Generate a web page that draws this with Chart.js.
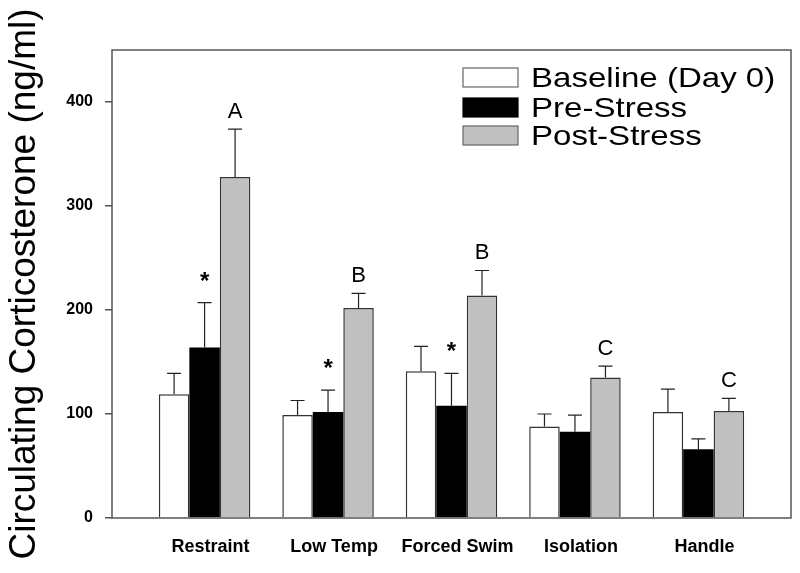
<!DOCTYPE html>
<html>
<head>
<meta charset="utf-8">
<script src="https://cdn.jsdelivr.net/npm/chart.js@4/dist/chart.umd.min.js"></script>
<style>
  html, body { margin: 0; padding: 0; background: #fff; }
  #wrap { width: 800px; height: 573px; }
</style>
</head>
<body>
<div id="wrap"><canvas id="c" width="800" height="573"></canvas></div>
<script>
// ---- data ----
const categories = ['Restraint', 'Low Temp', 'Forced Swim', 'Isolation', 'Handle'];
const seriesNames = ['Baseline (Day 0)', 'Pre-Stress', 'Post-Stress'];
const baseline = [119, 99, 141, 88, 102];
const baselineErr = [20, 14, 24, 12, 22];
const preStress = [164, 102, 108, 83, 66];
const preStressErr = [43, 21, 31, 16, 10];
const postStress = [328, 202, 214, 135, 103];
const postStressErr = [46, 14, 24, 11, 12];
const preStressMarks = ['*', '*', '*', '', ''];
const postStressMarks = ['A', 'B', 'B', 'C', 'C'];
const yTicks = [0, 100, 200, 300, 400];

const toPoints = arr => arr.map((v, i) => ({ x: i, y: v }));

const errorBarPlugin = {
  id: 'errorBars',
  afterDatasetsDraw(chart) {
    const ctx = chart.ctx;
    const yScale = chart.scales.y;
    ctx.save();
    ctx.strokeStyle = '#222';
    ctx.lineWidth = 1.2;
    chart.data.datasets.forEach((ds, di) => {
      const meta = chart.getDatasetMeta(di);
      meta.data.forEach((bar, i) => {
        const v = ds.data[i].y;
        const e = ds.errors[i];
        const yTop = yScale.getPixelForValue(v + e);
        const yBar = yScale.getPixelForValue(v);
        ctx.beginPath();
        ctx.moveTo(bar.x, yBar);
        ctx.lineTo(bar.x, yTop);
        ctx.moveTo(bar.x - 7, yTop);
        ctx.lineTo(bar.x + 7, yTop);
        ctx.stroke();
        const mark = ds.marks ? ds.marks[i] : '';
        if (mark) {
          ctx.fillStyle = '#000';
          ctx.textAlign = 'center';
          ctx.textBaseline = 'alphabetic';
          if (mark === '*') {
            ctx.font = 'bold 24px "Liberation Sans", Arial, sans-serif';
            ctx.fillText(mark, bar.x, yTop - 14);
          } else {
            ctx.font = '22px "Liberation Sans", Arial, sans-serif';
            ctx.fillText(mark, bar.x, yTop - 11);
          }
        }
      });
    });
    ctx.restore();
  }
};

const framePlugin = {
  id: 'frame',
  afterDraw(chart) {
    const { ctx, chartArea: a } = chart;
    ctx.save();
    ctx.strokeStyle = '#555';
    ctx.lineWidth = 1.5;
    ctx.strokeRect(a.left, a.top, a.right - a.left, a.bottom - a.top);
    // legend
    const bx = a.right - 328;
    const rows = [18, 48, 76];
    chart.data.datasets.forEach((ds, i) => {
      const y = a.top + rows[i];
      ctx.fillStyle = ds.backgroundColor;
      ctx.fillRect(bx, y, 55, 19);
      ctx.strokeStyle = i === 1 ? '#000' : '#666';
      ctx.lineWidth = 1.2;
      ctx.strokeRect(bx, y, 55, 19);
      ctx.save();
      ctx.translate(bx + 68, y + 19);
      ctx.scale(1.18, 1);
      ctx.fillStyle = '#000';
      ctx.font = '28px "Liberation Sans", Arial, sans-serif';
      ctx.textAlign = 'left';
      ctx.textBaseline = 'alphabetic';
      ctx.fillText(ds.label, 0, 0);
      ctx.restore();
    });
    ctx.restore();
  }
};

new Chart(document.getElementById('c'), {
  type: 'bar',
  data: {
    datasets: [
      { label: seriesNames[0], data: toPoints(baseline), errors: baselineErr, marks: null,
        backgroundColor: '#ffffff', borderColor: '#333', borderWidth: 1.5 },
      { label: seriesNames[1], data: toPoints(preStress), errors: preStressErr, marks: preStressMarks,
        backgroundColor: '#000000', borderColor: '#000', borderWidth: 0 },
      { label: seriesNames[2], data: toPoints(postStress), errors: postStressErr, marks: postStressMarks,
        backgroundColor: '#c0c0c0', borderColor: '#333', borderWidth: 1.5 }
    ]
  },
  options: {
    responsive: false,
    animation: false,
    categoryPercentage: 0.741,
    barPercentage: 1.0,
    layout: { padding: { left: 0, top: 50, right: 9, bottom: 15 } },
    plugins: { legend: { display: false }, tooltip: { enabled: false } },
    scales: {
      x: {
        type: 'linear',
        min: -0.75,
        max: 4.75,
        offset: false,
        grid: { display: false, drawTicks: false, tickLength: 0 },
        border: { display: false },
        afterBuildTicks: axis => { axis.ticks = categories.map((_, i) => ({ value: i })); },
        afterFit: axis => { axis.height = 40; },
        ticks: {
          autoSkip: false,
          maxRotation: 0,
          padding: 18,
          labelOffset: 6,
          color: '#000',
          font: { family: '"Liberation Sans", Arial, sans-serif', size: 18, weight: 'bold' },
          callback: v => categories[v] ?? ''
        }
      },
      y: {
        min: 0,
        max: 450,
        afterBuildTicks: axis => { axis.ticks = yTicks.map(v => ({ value: v })); },
        afterFit: axis => { axis.width = 112; },
        grid: { drawOnChartArea: false, drawTicks: true, tickLength: 7, color: '#555', lineWidth: 1.5 },
        border: { display: false },
        ticks: {
          padding: 12,
          color: '#000',
          font: { family: '"Liberation Sans", Arial, sans-serif', size: 16, weight: 'bold' }
        },
        title: {
          display: true,
          text: 'Circulating Corticosterone (ng/ml)',
          color: '#000',
          padding: { top: 3, bottom: 0 },
          font: { family: '"Liberation Sans", Arial, sans-serif', size: 37 }
        }
      }
    }
  },
  plugins: [errorBarPlugin, framePlugin]
});
</script>
</body>
</html>
